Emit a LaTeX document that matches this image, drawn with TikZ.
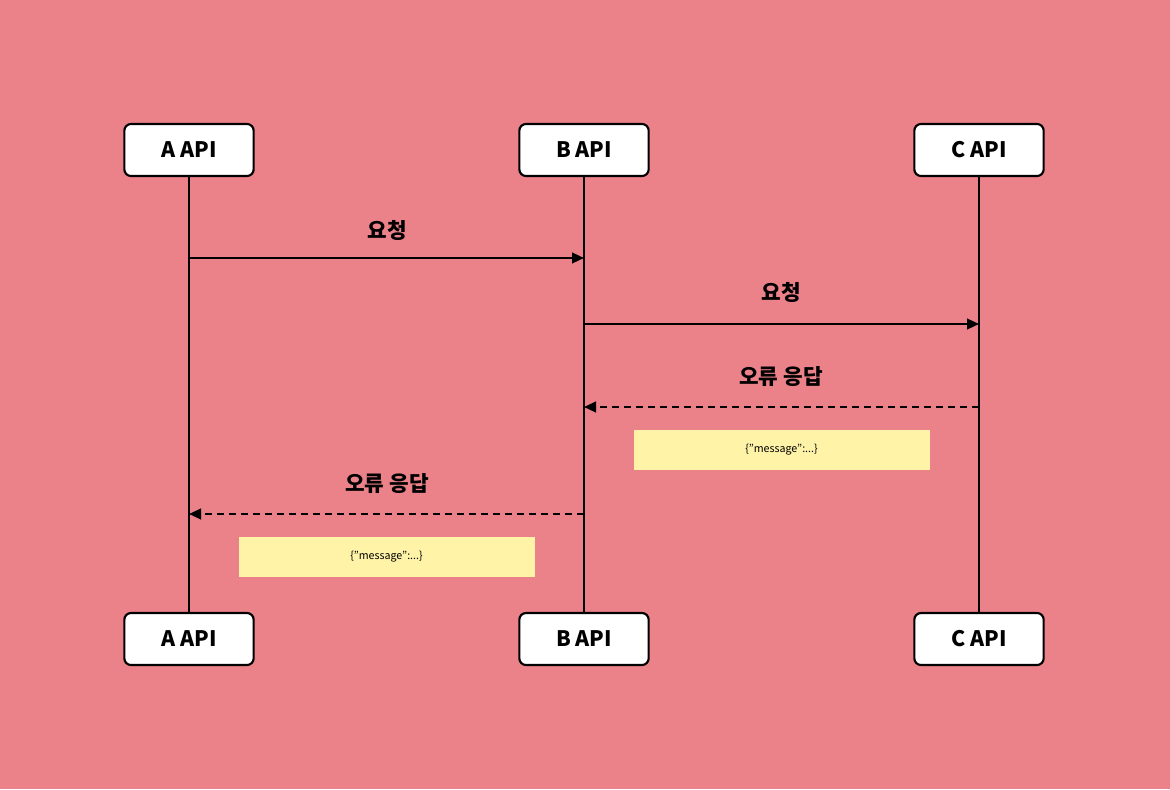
\documentclass[tikz,border=0pt]{standalone}
\usepackage{fontspec}
\setmainfont{Noto Sans CJK KR}
\usetikzlibrary{arrows.meta}
\definecolor{bg}{HTML}{EC8289}
\definecolor{note}{HTML}{FFF3A8}
\begin{document}
\begin{tikzpicture}[x=0.75pt,y=-0.75pt,
  actor/.style={draw,line width=1.6pt,fill=white,rounded corners=5pt,minimum width=97pt,minimum height=39pt,inner sep=0pt,font=\fontsize{16}{18}\selectfont\bfseries},
  life/.style={line width=1.6pt},
  msg/.style={line width=1.6pt,-{Triangle[length=9pt,width=8pt]}},
  ret/.style={msg,dash pattern=on 5pt off 4pt},
  lbl/.style={font=\fontsize{16}{18}\selectfont\bfseries},
  note/.style={fill=note,minimum width=222pt,minimum height=30pt,inner sep=0pt,font=\fontsize{8}{10}\selectfont}]
\fill[bg] (0,0) rectangle (1170,789);
\useasboundingbox (0,0) rectangle (1170,789);
\node[actor] (at) at (189,150) {A API};
\node[actor] (bt) at (584,150) {B API};
\node[actor] (ct) at (979,150) {C API};
\node[actor] (ab) at (189,639) {A API};
\node[actor] (bb) at (584,639) {B API};
\node[actor] (cb) at (979,639) {C API};
\draw[life] (at) -- (ab);
\draw[life] (bt) -- (bb);
\draw[life] (ct) -- (cb);
\coordinate (a1) at (189,258); \coordinate (b1) at (584,258);
\coordinate (b2) at (584,324); \coordinate (c2) at (979,324);
\coordinate (c3) at (979,407); \coordinate (b3) at (584,407);
\coordinate (b4) at (584,514); \coordinate (a4) at (189,514);
\draw[msg] (a1) -- (b1);
\draw[msg] (b2) -- (c2);
\draw[ret] (c3) -- (b3);
\draw[ret] (b4) -- (a4);
\node[lbl] (l1) at (387,230) {요청};
\node[lbl] (l2) at (781,292) {요청};
\node[lbl] (l3) at (781,377) {오류 응답};
\node[lbl] (l4) at (387,484) {오류 응답};
\node[note] (n1) at (781.5,450) {\{"message":...\}};
\node[note] (n2) at (386.5,557) {\{"message":...\}};
\end{tikzpicture}
\end{document}
